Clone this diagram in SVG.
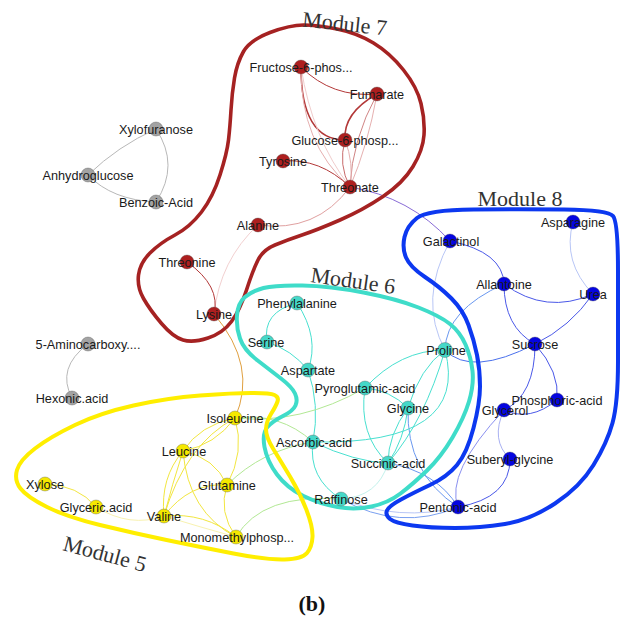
<svg xmlns="http://www.w3.org/2000/svg" width="624" height="617" viewBox="0 0 624 617">
<style>
.nd circle{stroke:#555;stroke-opacity:0.45;stroke-width:0.8}
.nd text{font-family:"Liberation Sans",Arial,sans-serif;font-size:12.7px;fill:#1a1a1a;text-anchor:middle}
.gr circle{fill:#a3a3a3}
.rd circle{fill:#ad1f1f}
.bl circle{fill:#0505e0}
.cy circle{fill:#45d8c8}
.ye circle{fill:#f5e800}
#edges path{fill:none;stroke-width:1}
.eg{stroke:#b8b8b8}
.er{stroke:#b33838;stroke-width:1.3}
.erp{stroke:#e6b0b0;stroke-width:0.8}
.eb{stroke:#4a58e8}
.ebl{stroke:#6a98f0}
.ebp{stroke:#b8c6f6}
.ec{stroke:#48e0d0}
.ecp{stroke:#c4f2ec}
.eg2{stroke:#b2e894}
.ey{stroke:#f2e640}
.eyp{stroke:#f8f2b0}
.hull{fill:none;stroke-width:3.6}
.mod{font-family:"Liberation Serif","Times New Roman",serif;font-size:22px;fill:#333;text-anchor:middle}
</style>

<g id="edges">
  <!-- grey -->
  <path class="eg" d="M88,175 Q118,146 156,129"/>
  <path class="eg" d="M156,129 Q180,165 156,202"/>
  <path class="eg" d="M88,175 Q112,200 156,202"/>
  <path class="eg" d="M88,344 Q56,368 72,398"/>
  <!-- module 7 -->
  <path class="er" d="M301,67 Q332,98 377,94"/>
  <path class="er" style="stroke-width:1.5" d="M301,67 Q301,140 345,140"/>
  <path class="erp" d="M301,67 Q300,143 350,187"/>
  <path class="erp" style="stroke:#f0cccc" d="M301,67 Q312,138 350,187"/>
  <path class="er" style="stroke-width:1.5" d="M377,94 Q343,113 345,140"/>
  <path class="erp" style="stroke:#d08484" d="M377,94 Q352,140 350,187"/>
  <path class="erp" d="M377,94 Q368,145 350,187"/>
  <path class="erp" style="stroke:#c86a6a" d="M345,140 Q338,165 350,187"/>
  <path class="erp" d="M345,140 Q354,163 350,187"/>
  <path class="er" style="stroke-width:1" d="M283,161 Q320,158 350,187"/>
  <path class="erp" style="stroke:#e0a0a0" d="M350,187 Q316,233 258,225"/>
  <path class="erp" style="stroke:#f2d0d0" d="M258,225 Q220,260 214,314"/>
  <path class="er" style="stroke-width:1" d="M187,262 Q221,286 214,314"/>
  <path style="stroke:#7a5ad0;stroke-width:0.9" d="M350,187 Q410,197 450,241"/>
  <path style="stroke:#e0a040" d="M214,314 Q258,366 235,418"/>
  <!-- module 8 -->
  <path class="eb" d="M450,241 Q503,252 504,284"/>
  <path class="ebp" d="M450,241 Q418,300 445,350"/>
  <path class="ebp" d="M573,222 Q562,262 593,294"/>
  <path class="eb" d="M504,284 Q546,315 593,294"/>
  <path class="eb" d="M504,284 Q504,327 535,344"/>
  <path class="ebl" d="M504,284 Q446,310 445,350"/>
  <path class="eb" d="M593,294 Q570,327 535,344"/>
  <path class="eb" style="stroke:#4a70ec" d="M445,350 Q471,377 535,344"/>
  <path class="eb" d="M535,344 Q535,395 504,410"/>
  <path class="eb" d="M535,344 Q560,372 557,400"/>
  <path class="eb" d="M504,410 Q530,422 557,400"/>
  <path class="ebp" style="stroke:#a8b0f2" d="M504,410 Q490,440 510,459"/>
  <path class="eb" style="stroke:#8a90f0" d="M504,410 Q445,473 458,507"/>
  <path class="eb" d="M510,459 Q510,498 458,507"/>
  <path class="ebl" d="M408,408 Q406,473 458,507"/>
  <path class="ebl" d="M388,463 Q437,472 458,507"/>
  <path class="ebl" style="stroke:#7aa0f0" d="M341,499 Q400,532 458,507"/>
  <path class="ebp" d="M341,499 Q400,522 458,507"/>
  <!-- module 6 -->
  <path class="ec" d="M297,303 Q262,312 267,342"/>
  <path class="ec" d="M297,303 Q320,338 308,370"/>
  <path class="ec" d="M267,342 Q292,350 308,370"/>
  <path class="ec" d="M308,370 Q320,405 313,442"/>
  <path class="ec" d="M313,442 Q308,478 341,499"/>
  <path class="ec" d="M313,442 Q355,462 388,463"/>
  <path class="ec" d="M313,442 Q470,445 445,350"/>
  <path class="ec" d="M365,388 Q400,350 445,350"/>
  <path class="ec" d="M365,388 Q390,390 408,408"/>
  <path class="ec" d="M365,388 Q358,435 388,463"/>
  <path class="ec" d="M408,408 Q388,435 388,463"/>
  <path class="ec" d="M408,408 Q404,440 388,463"/>
  <path class="ec" d="M445,350 Q425,420 388,463"/>
  <path class="ec" d="M445,350 Q420,368 408,408"/>
  <path class="ecp" d="M341,499 Q378,497 388,463"/>
  <!-- cross, green -->
  <path class="eg2" d="M235,418 Q300,425 365,388"/>
  <path class="eg2" d="M235,418 Q280,412 313,442"/>
  <path class="eg2" d="M227,485 Q262,450 313,442"/>
  <path class="eg2" d="M236,537 Q262,493 341,499"/>
  <!-- module 5 -->
  <path class="ey" d="M235,418 Q200,425 183,451"/>
  <path class="ey" d="M235,418 Q215,445 183,451"/>
  <path class="ey" d="M235,418 Q185,445 164,516"/>
  <path class="ey" d="M235,418 Q245,452 227,485"/>
  <path class="ey" d="M183,451 Q215,458 227,485"/>
  <path class="ey" d="M183,451 Q160,478 164,516"/>
  <path class="ey" d="M183,451 Q172,485 164,516"/>
  <path class="ey" d="M183,451 Q188,512 236,537"/>
  <path class="ey" d="M227,485 Q190,482 164,516"/>
  <path class="ey" d="M227,485 Q218,512 236,537"/>
  <path class="ey" d="M164,516 Q205,512 236,537"/>
  <path class="eyp" d="M164,516 Q200,527 236,537"/>
  <path class="ey" d="M45,484 Q78,485 96,507"/>
  <path class="eyp" d="M96,507 Q130,528 164,516"/>
</g>

<g id="modules">
  <path class="hull" stroke="#a52222" d="M270,32.5 Q290,25 303.5,25 Q317,25 337,29 Q357,33 373.5,43 Q390,53 403.5,70 Q417,87 421,103.5 Q425,120 424,135 Q423,150 413,166.5 Q403,183 383,196.5 Q363,210 340,220 Q317,230 302,235 Q287,240 275,245 Q263,250 258,260 Q253,270 246.5,290 Q240,310 231.5,321.5 Q223,333 208,338 Q193,343 183,340 Q173,337 161.5,323.5 Q150,310 143.5,298.5 Q137,287 138.5,275 Q140,263 150,253 Q160,243 175,235 Q190,227 201.5,212 Q213,197 220,175 Q227,153 228.5,140 Q230,127 231,110 Q232,93 234.5,78 Q237,63 243.5,51.5 Q250,40 270,32.5 Z"/>
  <path class="hull" stroke="#3fdcc9" style="stroke-width:4" d="M245,297 Q252,291 263.5,288 Q275,285 302.5,285.5 Q330,286 363.5,292.5 Q397,299 418.5,307.5 Q440,316 450,324 Q460,332 465.5,344.5 Q471,357 472.5,371 Q474,385 469,401.5 Q464,418 452.5,437.5 Q441,457 427,470.5 Q413,484 400.5,493.5 Q388,503 371.5,506.5 Q355,510 337.5,507 Q320,504 303.5,496 Q287,488 277,474.5 Q267,461 264.5,447 Q262,433 267.5,427 Q273,421 283,416 Q293,411 295.5,405.5 Q298,400 295,393.5 Q292,387 281,378.5 Q270,370 257,360 Q244,350 240,338.5 Q236,327 237,315 Q238,303 245,297 Z"/>
  <path class="hull" stroke="#0c38f0" style="stroke-width:4" d="M417,218 Q427,210 473.5,209.5 Q520,209 564,209.5 Q608,210 613,216 Q618,222 618,271 Q618,320 618,361.5 Q618,403 612.5,423 Q607,443 593.5,465 Q580,487 555,503.5 Q530,520 505,524 Q480,528 455,528 Q430,528 412.5,525.5 Q395,523 390,519 Q385,515 387,510.5 Q389,506 401,499.5 Q413,493 430,485 Q447,477 457,465 Q467,453 473.5,428 Q480,403 480,386.5 Q480,370 477,355 Q474,340 468.5,325 Q463,310 451.5,298.5 Q440,287 425,277 Q410,267 406,257.5 Q402,248 404.5,237 Q407,226 417,218 Z"/>
  <path class="hull" stroke="#ffee00" style="stroke-width:4" d="M277.5,401.5 Q279,397 274.5,395 Q270,393 251.5,393 Q233,393 200,395.5 Q167,398 133.5,405.5 Q100,413 75,425 Q50,437 35,448.5 Q20,460 17,470 Q14,480 20.5,488.5 Q27,497 47,507 Q67,517 100,525 Q133,533 166.5,540 Q200,547 233.5,553.5 Q267,560 284.5,559.5 Q302,559 307,553 Q312,547 312.5,537 Q313,527 306.5,510 Q300,493 290,476.5 Q280,460 273,448.5 Q266,437 266,429.5 Q266,422 271,414 Q276,406 277.5,401.5 Z"/>
  <text class="mod" x="344" y="31" transform="rotate(6 344 31)">Module 7</text>
  <text class="mod" x="520" y="206">Module 8</text>
  <text class="mod" x="352" y="288" transform="rotate(8 352 288)">Module 6</text>
  <text class="mod" x="103" y="561" transform="rotate(15 103 561)">Module 5</text>
</g>

<g id="n-xylofuranose" class="nd gr"><circle cx="156" cy="129" r="7"/><text x="156" y="133.5">Xylofuranose</text></g>
<g id="n-anhydroglucose" class="nd gr"><circle cx="88" cy="175" r="7"/><text x="88" y="179.5">Anhydroglucose</text></g>
<g id="n-benzoic" class="nd gr"><circle cx="156" cy="202" r="7"/><text x="156" y="206.5">Benzoic-Acid</text></g>
<g id="n-aminocarboxy" class="nd gr"><circle cx="88" cy="344" r="7"/><text x="88" y="348.5">5-Aminocarboxy....</text></g>
<g id="n-hexonic" class="nd gr"><circle cx="72" cy="398" r="7"/><text x="72" y="402.5">Hexonic.acid</text></g>

<g id="n-fructose" class="nd rd"><circle cx="301" cy="67" r="7"/><text x="301" y="71.5">Fructose-6-phos...</text></g>
<g id="n-fumarate" class="nd rd"><circle cx="377" cy="94" r="7"/><text x="377" y="98.5">Fumarate</text></g>
<g id="n-glucose" class="nd rd"><circle cx="345" cy="140" r="7"/><text x="345" y="144.5">Glucose-6-phosp...</text></g>
<g id="n-tyrosine" class="nd rd"><circle cx="283" cy="161" r="7"/><text x="283" y="165.5">Tyrosine</text></g>
<g id="n-threonate" class="nd rd"><circle cx="350" cy="187" r="7"/><text x="350" y="191.5">Threonate</text></g>
<g id="n-alanine" class="nd rd"><circle cx="258" cy="225" r="7"/><text x="258" y="229.5">Alanine</text></g>
<g id="n-threonine" class="nd rd"><circle cx="187" cy="262" r="7"/><text x="187" y="266.5">Threonine</text></g>
<g id="n-lysine" class="nd rd"><circle cx="214" cy="314" r="7"/><text x="214" y="318.5">Lysine</text></g>

<g id="n-asparagine" class="nd bl"><circle cx="573" cy="222" r="7"/><text x="573" y="226.5">Asparagine</text></g>
<g id="n-galactinol" class="nd bl"><circle cx="450" cy="241" r="7"/><text x="451" y="245.5">Galactinol</text></g>
<g id="n-allantoine" class="nd bl"><circle cx="504" cy="284" r="7"/><text x="504" y="288.5">Allantoine</text></g>
<g id="n-urea" class="nd bl"><circle cx="593" cy="294" r="7"/><text x="593" y="298.5">Urea</text></g>
<g id="n-sucrose" class="nd bl"><circle cx="535" cy="344" r="7"/><text x="535" y="348.5">Sucrose</text></g>
<g id="n-phosphoric" class="nd bl"><circle cx="557" cy="400" r="7"/><text x="557" y="404.5">Phosphoric-acid</text></g>
<g id="n-glycerol" class="nd bl"><circle cx="504" cy="410" r="7"/><text x="505" y="414.5">Glycerol</text></g>
<g id="n-suberyl" class="nd bl"><circle cx="510" cy="459" r="7"/><text x="510" y="463.5">Suberyl-glycine</text></g>
<g id="n-pentonic" class="nd bl"><circle cx="458" cy="507" r="7"/><text x="458" y="511.5">Pentonic-acid</text></g>

<g id="n-phenylalanine" class="nd cy"><circle cx="297" cy="303" r="7"/><text x="297" y="307.5">Phenylalanine</text></g>
<g id="n-serine" class="nd cy"><circle cx="267" cy="342" r="7"/><text x="266" y="346.5">Serine</text></g>
<g id="n-aspartate" class="nd cy"><circle cx="308" cy="370" r="7"/><text x="308" y="374.5">Aspartate</text></g>
<g id="n-proline" class="nd cy"><circle cx="445" cy="350" r="7.5"/><text x="446" y="354.5">Proline</text></g>
<g id="n-pyroglutamic" class="nd cy"><circle cx="365" cy="388" r="7"/><text x="365" y="392.5">Pyroglutamic-acid</text></g>
<g id="n-glycine" class="nd cy"><circle cx="408" cy="408" r="7"/><text x="408" y="412.5">Glycine</text></g>
<g id="n-ascorbic" class="nd cy"><circle cx="313" cy="442" r="7"/><text x="314" y="446.5">Ascorbic-acid</text></g>
<g id="n-succinic" class="nd cy"><circle cx="388" cy="463" r="7"/><text x="388" y="467.5">Succinic-acid</text></g>
<g id="n-raffinose" class="nd cy"><circle cx="341" cy="499" r="7"/><text x="341" y="503.5">Raffinose</text></g>

<g id="n-isoleucine" class="nd ye"><circle cx="235" cy="418" r="7"/><text x="235" y="422.5">Isoleucine</text></g>
<g id="n-leucine" class="nd ye"><circle cx="183" cy="451" r="7"/><text x="184" y="455.5">Leucine</text></g>
<g id="n-glutamine" class="nd ye"><circle cx="227" cy="485" r="7"/><text x="227" y="489.5">Glutamine</text></g>
<g id="n-xylose" class="nd ye"><circle cx="45" cy="484" r="7"/><text x="45" y="488.5">Xylose</text></g>
<g id="n-glyceric" class="nd ye"><circle cx="96" cy="507" r="7"/><text x="96" y="511.5">Glyceric.acid</text></g>
<g id="n-valine" class="nd ye"><circle cx="164" cy="516" r="7"/><text x="164" y="520.5">Valine</text></g>
<g id="n-monomethyl" class="nd ye"><circle cx="236" cy="537" r="7"/><text x="237" y="541.5">Monomethylphosp...</text></g>

<text x="312" y="611" style="font-family:'Liberation Serif','Times New Roman',serif;font-size:22px;font-weight:bold;fill:#111;text-anchor:middle">(b)</text>
</svg>
